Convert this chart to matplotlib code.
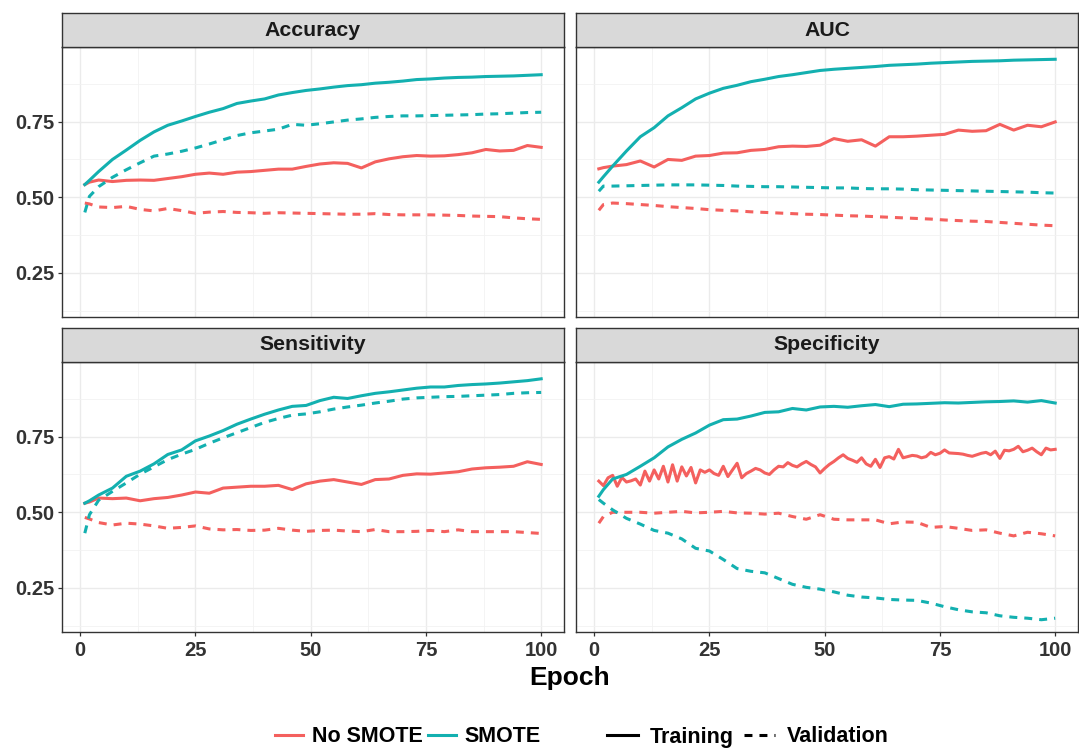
import matplotlib
matplotlib.use("Agg")
import matplotlib.pyplot as plt
from matplotlib.lines import Line2D
import numpy as np

# ---------------- data ----------------
epochs = [1, 2, 4, 7, 10, 13, 16, 19, 22, 25, 28, 31, 34, 37, 40, 43, 46, 49, 52, 55,
          58, 61, 64, 67, 70, 73, 76, 79, 82, 85, 88, 91, 94, 97, 100]
epochs_every = list(range(1, 101))

metrics = ["Accuracy", "AUC", "Sensitivity", "Specificity"]
methods = ["No SMOTE", "SMOTE"]
phases = ["Training", "Validation"]

acc_smote_train = [0.542, 0.556, 0.585, 0.625, 0.656, 0.688, 0.716, 0.738, 0.752, 0.767, 0.781, 0.793,
                   0.810, 0.818, 0.825, 0.838, 0.846, 0.853, 0.858, 0.864, 0.869, 0.872, 0.877, 0.880,
                   0.884, 0.889, 0.891, 0.894, 0.896, 0.897, 0.899, 0.900, 0.901, 0.903, 0.905]
acc_smote_val = [0.450, 0.503, 0.535, 0.566, 0.591, 0.614, 0.636, 0.643, 0.652, 0.663, 0.676, 0.690,
                 0.704, 0.713, 0.719, 0.725, 0.741, 0.738, 0.743, 0.749, 0.755, 0.759, 0.764, 0.767,
                 0.769, 0.769, 0.770, 0.771, 0.772, 0.773, 0.775, 0.776, 0.778, 0.780, 0.781]
acc_nosmote_train = [0.542, 0.550, 0.557, 0.552, 0.556, 0.557, 0.556, 0.562, 0.568, 0.576, 0.580, 0.576,
                     0.583, 0.585, 0.589, 0.593, 0.593, 0.602, 0.610, 0.614, 0.612, 0.597, 0.617, 0.627,
                     0.634, 0.638, 0.636, 0.637, 0.641, 0.647, 0.658, 0.653, 0.655, 0.671, 0.665]
acc_nosmote_val = [0.481, 0.478, 0.468, 0.466, 0.470, 0.460, 0.455, 0.463, 0.456, 0.447, 0.451, 0.453,
                   0.450, 0.449, 0.447, 0.449, 0.448, 0.447, 0.446, 0.445, 0.444, 0.444, 0.446, 0.443,
                   0.442, 0.442, 0.442, 0.441, 0.440, 0.438, 0.437, 0.436, 0.432, 0.429, 0.427]

auc_smote_train = [0.550, 0.568, 0.603, 0.653, 0.700, 0.730, 0.769, 0.796, 0.825, 0.844, 0.860, 0.870,
                   0.882, 0.890, 0.899, 0.905, 0.912, 0.919, 0.923, 0.926, 0.929, 0.932, 0.936, 0.938,
                   0.940, 0.943, 0.945, 0.947, 0.949, 0.950, 0.951, 0.953, 0.954, 0.955, 0.956]
auc_smote_val = [0.520, 0.537, 0.537, 0.538, 0.539, 0.540, 0.541, 0.541, 0.541, 0.540, 0.539, 0.537,
                 0.536, 0.535, 0.535, 0.534, 0.533, 0.532, 0.531, 0.531, 0.529, 0.528, 0.528, 0.527,
                 0.525, 0.524, 0.523, 0.522, 0.521, 0.520, 0.519, 0.518, 0.517, 0.515, 0.514]
auc_nosmote_train = [0.594, 0.598, 0.603, 0.608, 0.620, 0.600, 0.625, 0.622, 0.636, 0.638, 0.646, 0.647,
                     0.655, 0.658, 0.667, 0.669, 0.668, 0.672, 0.694, 0.685, 0.690, 0.669, 0.700, 0.700,
                     0.702, 0.705, 0.708, 0.722, 0.718, 0.720, 0.741, 0.722, 0.738, 0.733, 0.749]
auc_nosmote_val = [0.457, 0.476, 0.481, 0.479, 0.476, 0.473, 0.469, 0.466, 0.463, 0.459, 0.457, 0.455,
                   0.452, 0.450, 0.448, 0.446, 0.444, 0.443, 0.441, 0.439, 0.438, 0.436, 0.434, 0.432,
                   0.430, 0.428, 0.425, 0.423, 0.421, 0.420, 0.417, 0.414, 0.411, 0.408, 0.406]

sens_smote_train = [0.530, 0.538, 0.557, 0.580, 0.619, 0.636, 0.660, 0.691, 0.706, 0.736, 0.752, 0.770,
                    0.791, 0.808, 0.824, 0.838, 0.850, 0.853, 0.869, 0.880, 0.876, 0.885, 0.893, 0.898,
                    0.904, 0.910, 0.914, 0.914, 0.919, 0.922, 0.924, 0.927, 0.931, 0.935, 0.941]
sens_smote_val = [0.431, 0.492, 0.540, 0.569, 0.597, 0.626, 0.650, 0.674, 0.692, 0.708, 0.728, 0.746,
                  0.763, 0.780, 0.797, 0.810, 0.821, 0.825, 0.832, 0.841, 0.848, 0.854, 0.861, 0.867,
                  0.874, 0.878, 0.880, 0.882, 0.883, 0.885, 0.887, 0.889, 0.893, 0.895, 0.896]
sens_nosmote_train = [0.530, 0.534, 0.547, 0.545, 0.547, 0.538, 0.545, 0.549, 0.557, 0.567, 0.563, 0.580,
                      0.583, 0.586, 0.586, 0.589, 0.575, 0.594, 0.603, 0.608, 0.600, 0.592, 0.608, 0.610,
                      0.622, 0.627, 0.626, 0.630, 0.634, 0.643, 0.647, 0.649, 0.652, 0.667, 0.658]
sens_nosmote_val = [0.483, 0.478, 0.466, 0.458, 0.464, 0.461, 0.455, 0.447, 0.450, 0.455, 0.445, 0.442,
                    0.443, 0.440, 0.441, 0.447, 0.441, 0.437, 0.440, 0.441, 0.438, 0.436, 0.443, 0.436,
                    0.436, 0.437, 0.440, 0.436, 0.442, 0.436, 0.436, 0.436, 0.436, 0.433, 0.430]

spec_smote_train = [0.553, 0.575, 0.610, 0.625, 0.652, 0.680, 0.716, 0.741, 0.762, 0.788, 0.806, 0.808,
                    0.818, 0.830, 0.832, 0.843, 0.838, 0.848, 0.850, 0.847, 0.852, 0.856, 0.849, 0.857,
                    0.858, 0.860, 0.862, 0.861, 0.863, 0.865, 0.866, 0.868, 0.864, 0.869, 0.861]
spec_smote_val = [0.542, 0.530, 0.508, 0.480, 0.461, 0.440, 0.431, 0.412, 0.381, 0.372, 0.344, 0.314,
                  0.305, 0.300, 0.281, 0.262, 0.252, 0.246, 0.237, 0.226, 0.220, 0.217, 0.212, 0.210,
                  0.209, 0.200, 0.188, 0.178, 0.171, 0.168, 0.158, 0.153, 0.150, 0.145, 0.150]
# this series is very jagged, so it is read at every epoch
spec_nosmote_train = [0.603, 0.588, 0.614, 0.622, 0.586, 0.615, 0.600, 0.604, 0.610, 0.590,
                      0.636, 0.603, 0.640, 0.610, 0.652, 0.600, 0.657, 0.603, 0.650, 0.620,
                      0.648, 0.597, 0.640, 0.632, 0.640, 0.628, 0.622, 0.652, 0.618, 0.640,
                      0.662, 0.614, 0.628, 0.636, 0.645, 0.640, 0.630, 0.625, 0.640, 0.652,
                      0.650, 0.664, 0.655, 0.650, 0.660, 0.668, 0.658, 0.650, 0.630, 0.645,
                      0.658, 0.668, 0.680, 0.690, 0.678, 0.672, 0.665, 0.680, 0.660, 0.652,
                      0.675, 0.648, 0.680, 0.684, 0.676, 0.708, 0.680, 0.684, 0.688, 0.686,
                      0.680, 0.684, 0.698, 0.690, 0.695, 0.706, 0.696, 0.695, 0.694, 0.692,
                      0.688, 0.685, 0.690, 0.695, 0.698, 0.690, 0.702, 0.678, 0.705, 0.703,
                      0.708, 0.718, 0.700, 0.705, 0.712, 0.700, 0.690, 0.712, 0.706, 0.708]
spec_nosmote_val = [0.464, 0.486, 0.500, 0.500, 0.500, 0.497, 0.500, 0.503, 0.498, 0.500, 0.503, 0.498,
                    0.497, 0.494, 0.497, 0.486, 0.477, 0.492, 0.477, 0.475, 0.475, 0.475, 0.462, 0.468,
                    0.467, 0.450, 0.453, 0.447, 0.440, 0.442, 0.431, 0.422, 0.434, 0.429, 0.422]

x_ticks = [0, 25, 50, 75, 100]
y_ticks = [0.25, 0.50, 0.75]
y_tick_labels = ["0.25", "0.50", "0.75"]

series = {
    "Accuracy": {("No SMOTE", "Training"): (epochs, acc_nosmote_train),
                 ("No SMOTE", "Validation"): (epochs, acc_nosmote_val),
                 ("SMOTE", "Training"): (epochs, acc_smote_train),
                 ("SMOTE", "Validation"): (epochs, acc_smote_val)},
    "AUC": {("No SMOTE", "Training"): (epochs, auc_nosmote_train),
            ("No SMOTE", "Validation"): (epochs, auc_nosmote_val),
            ("SMOTE", "Training"): (epochs, auc_smote_train),
            ("SMOTE", "Validation"): (epochs, auc_smote_val)},
    "Sensitivity": {("No SMOTE", "Training"): (epochs, sens_nosmote_train),
                    ("No SMOTE", "Validation"): (epochs, sens_nosmote_val),
                    ("SMOTE", "Training"): (epochs, sens_smote_train),
                    ("SMOTE", "Validation"): (epochs, sens_smote_val)},
    "Specificity": {("No SMOTE", "Training"): (epochs_every, spec_nosmote_train),
                    ("No SMOTE", "Validation"): (epochs, spec_nosmote_val),
                    ("SMOTE", "Training"): (epochs, spec_smote_train),
                    ("SMOTE", "Validation"): (epochs, spec_smote_val)},
}

# ---------------- style ----------------
plt.rcParams["font.family"] = ["Liberation Sans", "DejaVu Sans"]
plt.rcParams["font.weight"] = "bold"

colors = {"No SMOTE": "#F4605E", "SMOTE": "#13B0B0"}
LW = 2.2
DASH = (0, (2.6, 2.3))
styles = {"Training": "-", "Validation": DASH}
dark = "#333333"

W, H = 1079, 749
fig = plt.figure(figsize=(W / 100, H / 100), dpi=100)

# panel pixel boxes (left, top, right, bottom)
panel_px = {
    "Accuracy": (62, 47, 564, 317),
    "AUC": (576, 47, 1078, 317),
    "Sensitivity": (62, 362, 564, 632),
    "Specificity": (576, 362, 1078, 632),
}
STRIP_H = 34

all_vals = np.concatenate([np.asarray(v[1]) for m in series.values() for v in m.values()])
ymin, ymax = all_vals.min(), all_vals.max()
ypad = 0.05 * (ymax - ymin)
xmin, xmax = min(epochs), max(epochs)
xpad = 0.05 * (xmax - xmin)


def frac(l, t, r, b):
    return [l / W, (H - b) / H, (r - l) / W, (b - t) / H]


for i, metric in enumerate(metrics):
    l, t, r, b = panel_px[metric]
    is_left = i % 2 == 0
    is_bottom = i >= 2
    ax = fig.add_axes(frac(l, t, r, b))
    ax.set_facecolor("white")
    ax.set_xlim(xmin - xpad, xmax + xpad)
    ax.set_ylim(ymin - ypad, ymax + ypad)
    ax.set_xticks(x_ticks)
    ax.set_xticks([12.5, 37.5, 62.5, 87.5], minor=True)
    ax.set_yticks(y_ticks)
    ax.set_yticklabels(y_tick_labels)
    ax.set_yticks([0.125, 0.375, 0.625, 0.875], minor=True)
    ax.grid(which="major", color="#EBEBEB", lw=1.0)
    ax.grid(which="minor", color="#F2F2F2", lw=0.6)
    ax.set_axisbelow(True)

    for method in methods:
        for phase in phases:
            xs, ys = series[metric][(method, phase)]
            ax.plot(xs, ys, color=colors[method],
                    linestyle=styles[phase], lw=LW, dash_capstyle="butt",
                    solid_joinstyle="round")

    for s in ax.spines.values():
        s.set_color(dark)
        s.set_linewidth(1.0)
    ax.tick_params(which="minor", length=0)
    ax.tick_params(which="major", length=3.2, width=0.9, color=dark,
                   labelsize=14.5, labelcolor=dark, pad=2.2)
    ax.tick_params(axis="x", pad=3.5)
    if not is_left:
        ax.tick_params(axis="y", length=0, labelleft=False)
    if not is_bottom:
        ax.tick_params(axis="x", length=0, labelbottom=False)

    # strip
    sax = fig.add_axes(frac(l, t - STRIP_H, r, t))
    sax.set_facecolor("#D9D9D9")
    sax.set_xticks([])
    sax.set_yticks([])
    for s in sax.spines.values():
        s.set_color(dark)
        s.set_linewidth(1.0)
    sax.text(0.5, 0.5, metric, ha="center", va="center", fontsize=15.3,
             fontweight="bold", color="#1A1A1A", transform=sax.transAxes)

fig.text(570 / W, (H - 678) / H, "Epoch", ha="center", va="center",
         fontsize=19, fontweight="bold", color="black")

# legends
h1 = [Line2D([], [], color=colors[m], lw=LW) for m in methods]
leg1 = fig.legend(h1, methods, loc="center", bbox_to_anchor=(408 / W, (H - 737) / H),
                  ncol=2, frameon=False, fontsize=15.5, handlelength=1.3,
                  handletextpad=0.4, columnspacing=0.25)
h2 = [Line2D([], [], color="black", lw=LW, linestyle=styles[p], dash_capstyle="butt") for p in phases]
leg2 = fig.legend(h2, phases, loc="center", bbox_to_anchor=(748 / W, (H - 737) / H),
                  ncol=2, frameon=False, fontsize=15.5, handlelength=1.45,
                  handletextpad=0.55, columnspacing=0.45)
for leg in (leg1, leg2):
    for txt in leg.get_texts():
        txt.set_fontweight("bold")
        txt.set_color("black")

fig.savefig("out.png", dpi=100, facecolor="white")
